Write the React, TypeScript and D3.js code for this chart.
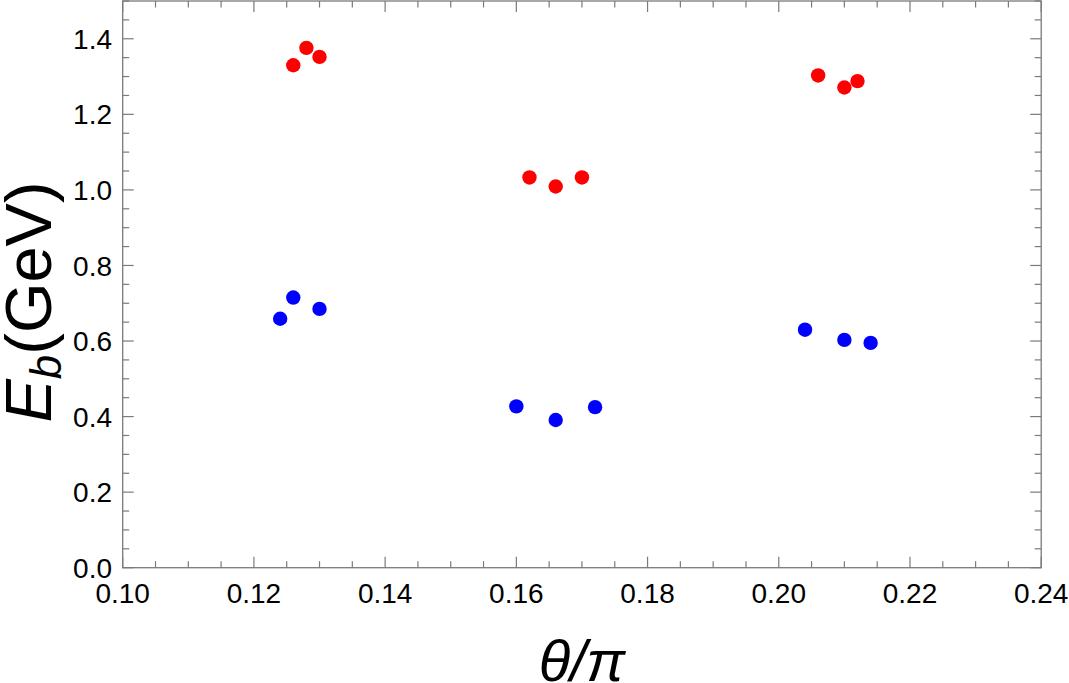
import React from "react";
import * as d3 from "d3";

const W = 1069;
const H = 683;

const redTheta = [0.126, 0.128, 0.130, 0.162, 0.166, 0.170, 0.206, 0.210, 0.212];
const redEnergy = [1.330, 1.376, 1.352, 1.033, 1.009, 1.033, 1.303, 1.271, 1.288];
const blueTheta = [0.124, 0.126, 0.130, 0.160, 0.166, 0.172, 0.204, 0.210, 0.214];
const blueEnergy = [0.659, 0.715, 0.685, 0.427, 0.391, 0.425, 0.630, 0.603, 0.595];

const xMajor = [0.10, 0.12, 0.14, 0.16, 0.18, 0.20, 0.22, 0.24];
const yMajor = [0.0, 0.2, 0.4, 0.6, 0.8, 1.0, 1.2, 1.4];
const xDomain = [0.10, 0.24];
const yDomain = [0.0, 1.5];

const M = { left: 122.7, right: 1041.2, top: 1, bottom: 567.7 };

export default function App() {
  const x = d3.scaleLinear().domain(xDomain).range([M.left, M.right]);
  const y = d3.scaleLinear().domain(yDomain).range([M.bottom, M.top]);

  const xMinor = d3.range(0, 29).map((i) => 0.10 + i * 0.005);
  const yMinor = d3.range(0, 31).map((i) => i * 0.05);
  const isMajorX = (v: number) => xMajor.some((m) => Math.abs(m - v) < 1e-9);
  const isMajorY = (v: number) => yMajor.some((m) => Math.abs(m - v) < 1e-9);

  const axisColor = "#7a7a7a";
  const font = "'Liberation Sans', Arial, sans-serif";
  const majLen = 11;
  const minLen = 6.5;

  const red = redTheta.map((t, i) => [t, redEnergy[i]]);
  const blue = blueTheta.map((t, i) => [t, blueEnergy[i]]);

  return (
    <svg
      width={W}
      height={H}
      style={{ position: "absolute", left: 0, top: 0, background: "#fff" }}
    >
      <rect x={0} y={0} width={W} height={H} fill="#fff" />
      {/* frame */}
      <rect
        x={M.left}
        y={M.top}
        width={M.right - M.left}
        height={M.bottom - M.top}
        fill="none"
        stroke={axisColor}
        strokeWidth={1.3}
      />
      {/* x ticks */}
      {xMinor.map((v, i) => {
        const L = isMajorX(v) ? majLen : minLen;
        const px = x(v);
        return (
          <g key={"xt" + i}>
            <line x1={px} x2={px} y1={M.bottom} y2={M.bottom - L} stroke={axisColor} strokeWidth={1.2} />
            <line x1={px} x2={px} y1={M.top} y2={M.top + L} stroke={axisColor} strokeWidth={1.2} />
          </g>
        );
      })}
      {/* y ticks */}
      {yMinor.map((v, i) => {
        const L = isMajorY(v) ? majLen : minLen;
        const py = y(v);
        return (
          <g key={"yt" + i}>
            <line x1={M.left} x2={M.left + L} y1={py} y2={py} stroke={axisColor} strokeWidth={1.2} />
            <line x1={M.right} x2={M.right - L} y1={py} y2={py} stroke={axisColor} strokeWidth={1.2} />
          </g>
        );
      })}
      {/* x tick labels */}
      {xMajor.map((v, i) => (
        <text
          key={"xl" + i}
          x={x(v)}
          y={603}
          textAnchor="middle"
          fontFamily={font}
          fontSize={28}
          fill="#000"
        >
          {d3.format(".2f")(v)}
        </text>
      ))}
      {/* y tick labels */}
      {yMajor.map((v, i) => (
        <text
          key={"yl" + i}
          x={112}
          y={y(v)}
          dy="0.36em"
          textAnchor="end"
          fontFamily={font}
          fontSize={28}
          fill="#000"
        >
          {d3.format(".1f")(v)}
        </text>
      ))}
      {/* points */}
      {red.map((d, i) => (
        <circle key={"r" + i} cx={x(d[0])} cy={y(d[1])} r={7.2} fill="#ff0000" />
      ))}
      {blue.map((d, i) => (
        <circle key={"b" + i} cx={x(d[0])} cy={y(d[1])} r={7.2} fill="#0000ff" />
      ))}
      {/* axis labels */}
      <text
        x={(M.left + M.right) / 2}
        y={681}
        textAnchor="middle"
        fontFamily={font}
        fontSize={58}
        fontStyle="italic"
        fill="#000"
      >
        θ/π
      </text>
      <text
        transform={`translate(51, 302) rotate(-90)`}
        textAnchor="middle"
        fontFamily={font}
        fontSize={65}
        fill="#000"
      >
        <tspan fontStyle="italic">E</tspan>
        <tspan fontStyle="italic" fontSize={44} dy={10}>b</tspan>
        <tspan dy={-10}>(GeV)</tspan>
      </text>
    </svg>
  );
}
